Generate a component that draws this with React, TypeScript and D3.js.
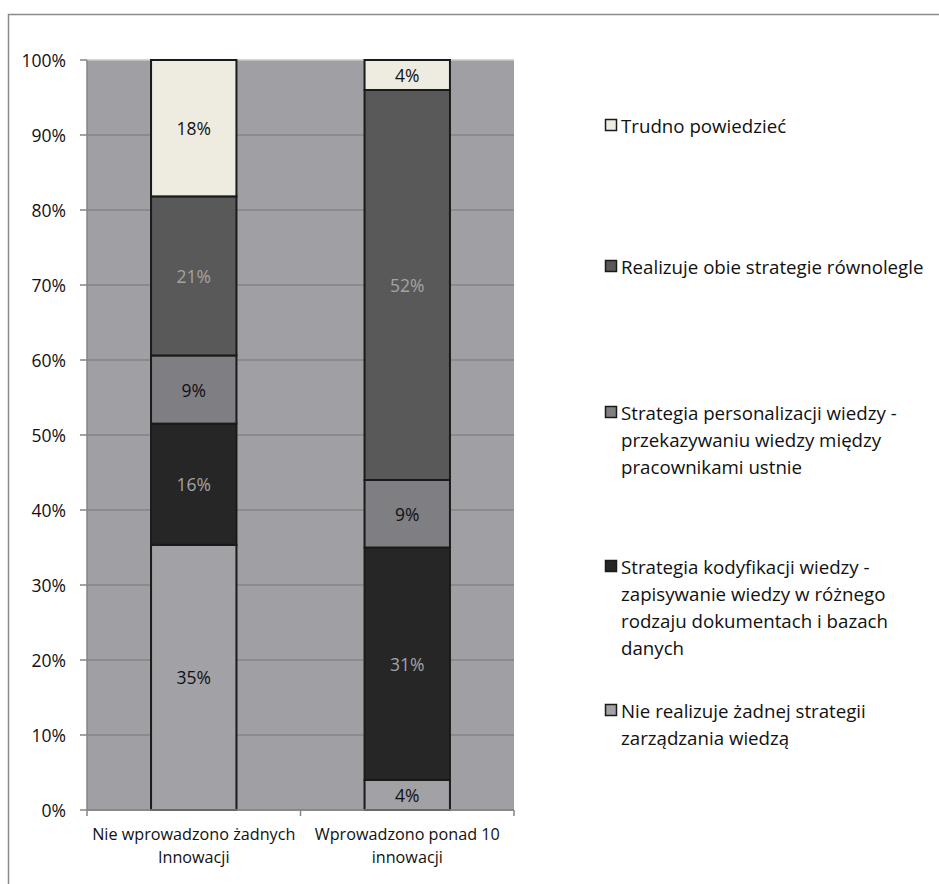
import React from "react";
import * as d3 from "d3";

// Categories (x axis) and stacked series, bottom to top
const categories = ["Nie wprowadzono żadnych\nInnowacji", "Wprowadzono ponad 10\ninnowacji"];

const seriesNames = [
  "Nie realizuje żadnej strategii zarządzania wiedzą",
  "Strategia kodyfikacji wiedzy - zapisywanie wiedzy w różnego rodzaju dokumentach i bazach danych",
  "Strategia personalizacji wiedzy - przekazywaniu wiedzy między pracownikami ustnie",
  "Realizuje obie strategie równolegle",
  "Trudno powiedzieć",
];

// Share of each series per category (same order as seriesNames)
const noStrategy = [0.35, 0.04];
const codification = [0.16, 0.31];
const personalization = [0.09, 0.09];
const both = [0.21, 0.52];
const hardToSay = [0.18, 0.04];

const yTicks = [0, 0.1, 0.2, 0.3, 0.4, 0.5, 0.6, 0.7, 0.8, 0.9, 1];

// Legend text, wrapped into lines, listed top to bottom
const legendLines = [
  ["Trudno powiedzieć"],
  ["Realizuje obie strategie równolegle"],
  ["Strategia personalizacji wiedzy -", "przekazywaniu wiedzy między", "pracownikami ustnie"],
  ["Strategia kodyfikacji wiedzy -", "zapisywanie wiedzy w różnego", "rodzaju dokumentach i bazach", "danych"],
  ["Nie realizuje żadnej strategii", "zarządzania wiedzą"],
];

const fills = ["#A2A1A6", "#262626", "#7F7E83", "#595959", "#EEECE1"];
const labelColors = ["#111", "#A3A3A3", "#111", "#A3A3A3", "#111"];
const FONT = "'Open Sans', 'Noto Sans', sans-serif";

export default function App() {
  const W = 939;
  const H = 884;
  const plot = { left: 87, right: 514, top: 60, bottom: 810 };

  const seriesValues = [noStrategy, codification, personalization, both, hardToSay];
  const rows = categories.map((c, i) => {
    const r: Record<string, any> = { cat: c };
    seriesValues.forEach((vals, s) => (r["s" + s] = vals[i]));
    return r;
  });
  const keys = seriesValues.map((_, s) => "s" + s);
  const stacked = d3.stack().keys(keys).offset(d3.stackOffsetExpand)(rows as any);

  const x = d3
    .scaleBand<string>()
    .domain(categories)
    .range([plot.left, plot.right])
    .paddingInner(0.6)
    .paddingOuter(0.3);
  const y = d3.scaleLinear().domain([0, 1]).range([plot.bottom, plot.top]);
  const pct = d3.format(".0%");

  const bandStep = (plot.right - plot.left) / categories.length;
  const catTicks = d3.range(categories.length + 1).map((i) => plot.left + i * bandStep);

  // legend layout
  const legendX = 605;
  const legendStarts = [125, 266, 412, 566, 710];
  const lineH = 27.3;

  return (
    <svg
      width={W}
      height={H}
      style={{ position: "absolute", left: 0, top: 0, fontFamily: FONT }}
    >
      <rect width={W} height={H} fill="#fff" />
      {/* chart frame */}
      <path d={`M8.5,${H} V14.5 H${W}`} fill="none" stroke="#8a8a8a" strokeWidth={1.5} />

      {/* plot background */}
      <rect
        x={plot.left}
        y={plot.top}
        width={plot.right - plot.left}
        height={plot.bottom - plot.top}
        fill="#A09FA4"
      />
      {/* gridlines */}
      {yTicks.map((t) => (
        <line
          key={"g" + t}
          x1={plot.left}
          x2={plot.right}
          y1={y(t)}
          y2={y(t)}
          stroke={t === 1 ? "#C8C8C8" : "#858585"}
          strokeWidth={1.5}
        />
      ))}

      {/* bars */}
      {stacked.map((layer, s) =>
        layer.map((d, i) => {
          const cat = categories[i];
          const x0 = x(cat)!;
          const bw = x.bandwidth();
          const y0 = y(d[1]);
          const y1 = y(d[0]);
          const v = seriesValues[s][i];
          return (
            <g key={`b${s}-${i}`}>
              <rect
                x={x0}
                y={y0}
                width={bw}
                height={y1 - y0}
                fill={fills[s]}
                stroke="#1a1a1a"
                strokeWidth={2}
              />
              <text
                x={x0 + bw / 2}
                y={(y0 + y1) / 2}
                textAnchor="middle"
                dominantBaseline="central"
                fontSize={17.5}
                fill={labelColors[s]}
              >
                {pct(v)}
              </text>
            </g>
          );
        })
      )}

      {/* y axis */}
      <line x1={plot.left} x2={plot.left} y1={plot.top} y2={plot.bottom} stroke="#858585" strokeWidth={1.5} />
      {yTicks.map((t) => (
        <g key={"yt" + t}>
          <line x1={plot.left - 7} x2={plot.left} y1={y(t)} y2={y(t)} stroke="#858585" strokeWidth={1.5} />
          <text
            x={66}
            y={y(t)}
            textAnchor="end"
            dominantBaseline="central"
            fontSize={17.5}
            fill="#111"
          >
            {pct(t)}
          </text>
        </g>
      ))}

      {/* x axis */}
      <line x1={plot.left} x2={plot.right} y1={plot.bottom} y2={plot.bottom} stroke="#858585" strokeWidth={1.5} />
      {catTicks.map((tx, i) => (
        <line key={"xt" + i} x1={tx} x2={tx} y1={plot.bottom} y2={plot.bottom + 6} stroke="#858585" strokeWidth={1.5} />
      ))}
      {categories.map((c) => {
        const cx = x(c)! + x.bandwidth() / 2;
        return c.split("\n").map((line, li) => (
          <text
            key={c + li}
            x={cx}
            y={834 + li * 23}
            textAnchor="middle"
            dominantBaseline="central"
            fontSize={16.2}
            fill="#111"
          >
            {line}
          </text>
        ));
      })}

      {/* legend */}
      {legendLines.map((lines, k) => {
        const s = seriesNames.length - 1 - k;
        const y0 = legendStarts[k];
        return (
          <g key={"lg" + k}>
            <rect
              x={legendX + 0.5}
              y={y0 - 5.5}
              width={11}
              height={11}
              fill={fills[s]}
              stroke="#1a1a1a"
              strokeWidth={1.5}
            />
            {lines.map((ln, li) => (
              <text
                key={li}
                x={621}
                y={y0 + li * lineH}
                dominantBaseline="central"
                fontSize={18.7}
                fill="#111"
              >
                {ln}
              </text>
            ))}
          </g>
        );
      })}
    </svg>
  );
}
